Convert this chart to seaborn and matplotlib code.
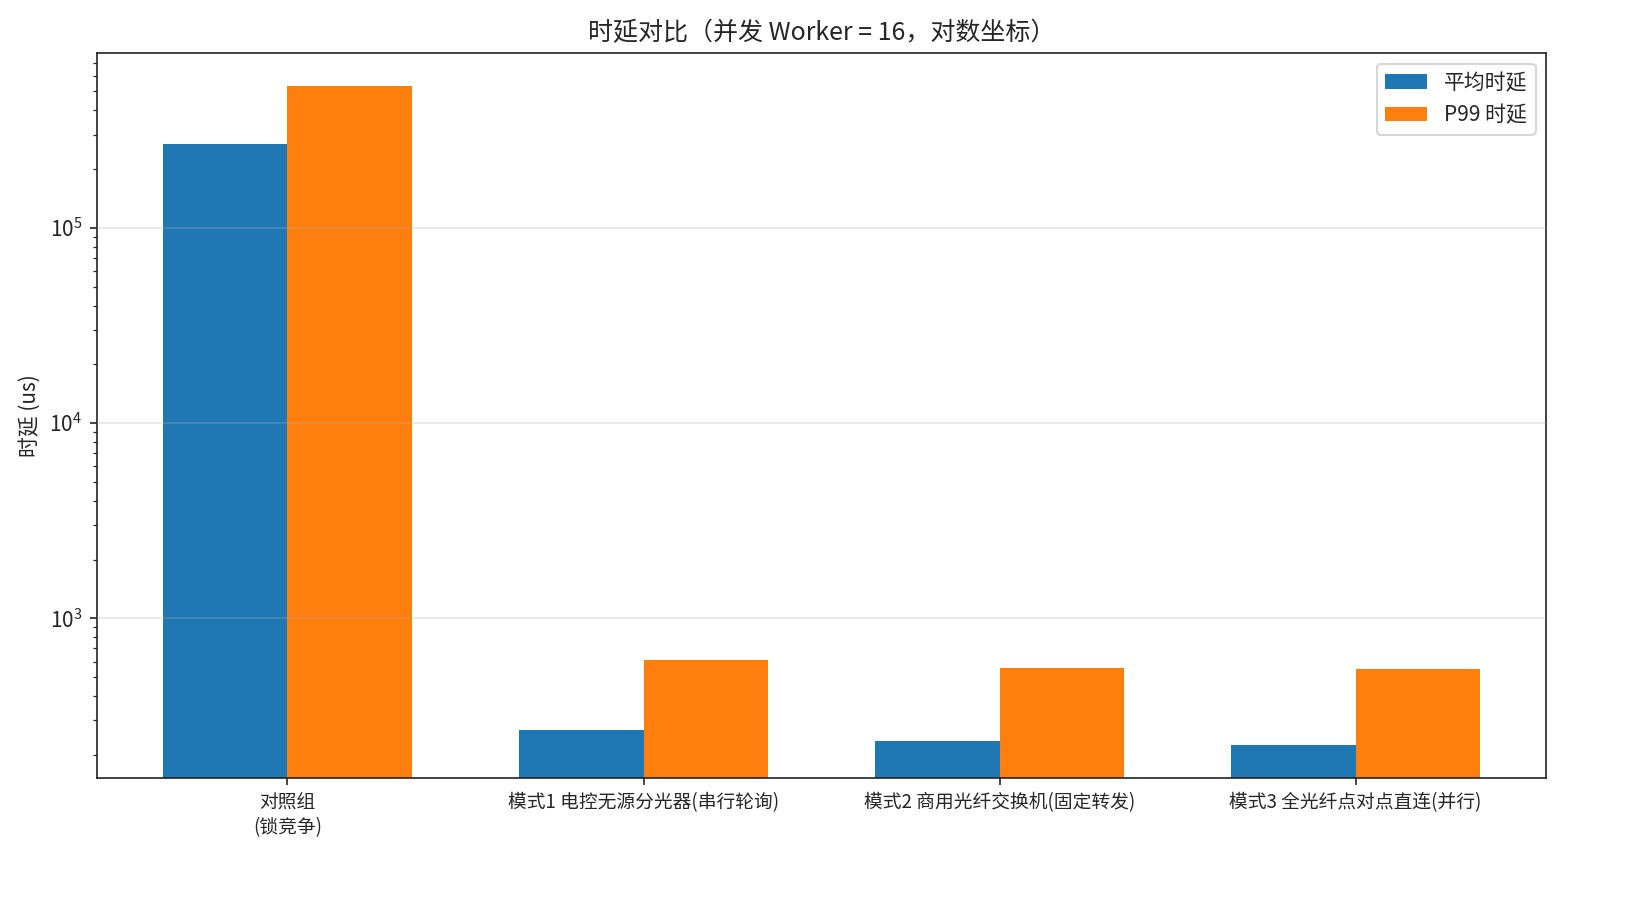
import pandas as pd
import matplotlib.pyplot as plt
import seaborn as sns

# chart values (us)
groups = ["对照组\n(锁竞争)", "模式1 电控无源分光器(串行轮询)",
          "模式2 商用光纤交换机(固定转发)", "模式3 全光纤点对点直连(并行)"]
avg_latency = [269000, 267, 235, 224]
p99_latency = [532000, 610, 555, 548]
series_names = ["平均时延", "P99 时延"]

df = pd.DataFrame({
    "group": groups * 2,
    "latency": avg_latency + p99_latency,
    "series": [series_names[0]] * len(groups) + [series_names[1]] * len(groups),
})

sns.set_style("ticks")
plt.rcParams['font.family'] = ['Noto Sans CJK SC', 'DejaVu Sans']
plt.rcParams['axes.unicode_minus'] = False

fig = plt.figure(figsize=(11, 6), dpi=150)
ax = fig.add_axes([0.0588, 0.1356, 0.8782, 0.8054])

sns.barplot(data=df, x="group", y="latency", hue="series",
            palette=["#1f77b4", "#ff7f0e"], width=0.7, gap=0,
            saturation=1, linewidth=0, ax=ax)
ax.set_yscale('log')

ax.set_xlim(-0.535, 3.535)
ax.set_ylim(152, 786000)
ax.set_axisbelow(False)
ax.grid(axis='y', which='major', color='#b0b0b0', alpha=0.3, linewidth=0.8)
for sp in ax.spines.values():
    sp.set_color('#222222')
    sp.set_visible(True)

ax.set_title("时延对比（并发 Worker = 16，对数坐标）", fontsize=12)
ax.set_xlabel("")
ax.set_ylabel("时延 (us)", fontsize=10)
ax.tick_params(axis='x', labelsize=9)
ax.tick_params(axis='y', labelsize=10)
ax.legend(loc='upper right', fontsize=10, title=None)

fig.savefig("out.png", dpi=150)
